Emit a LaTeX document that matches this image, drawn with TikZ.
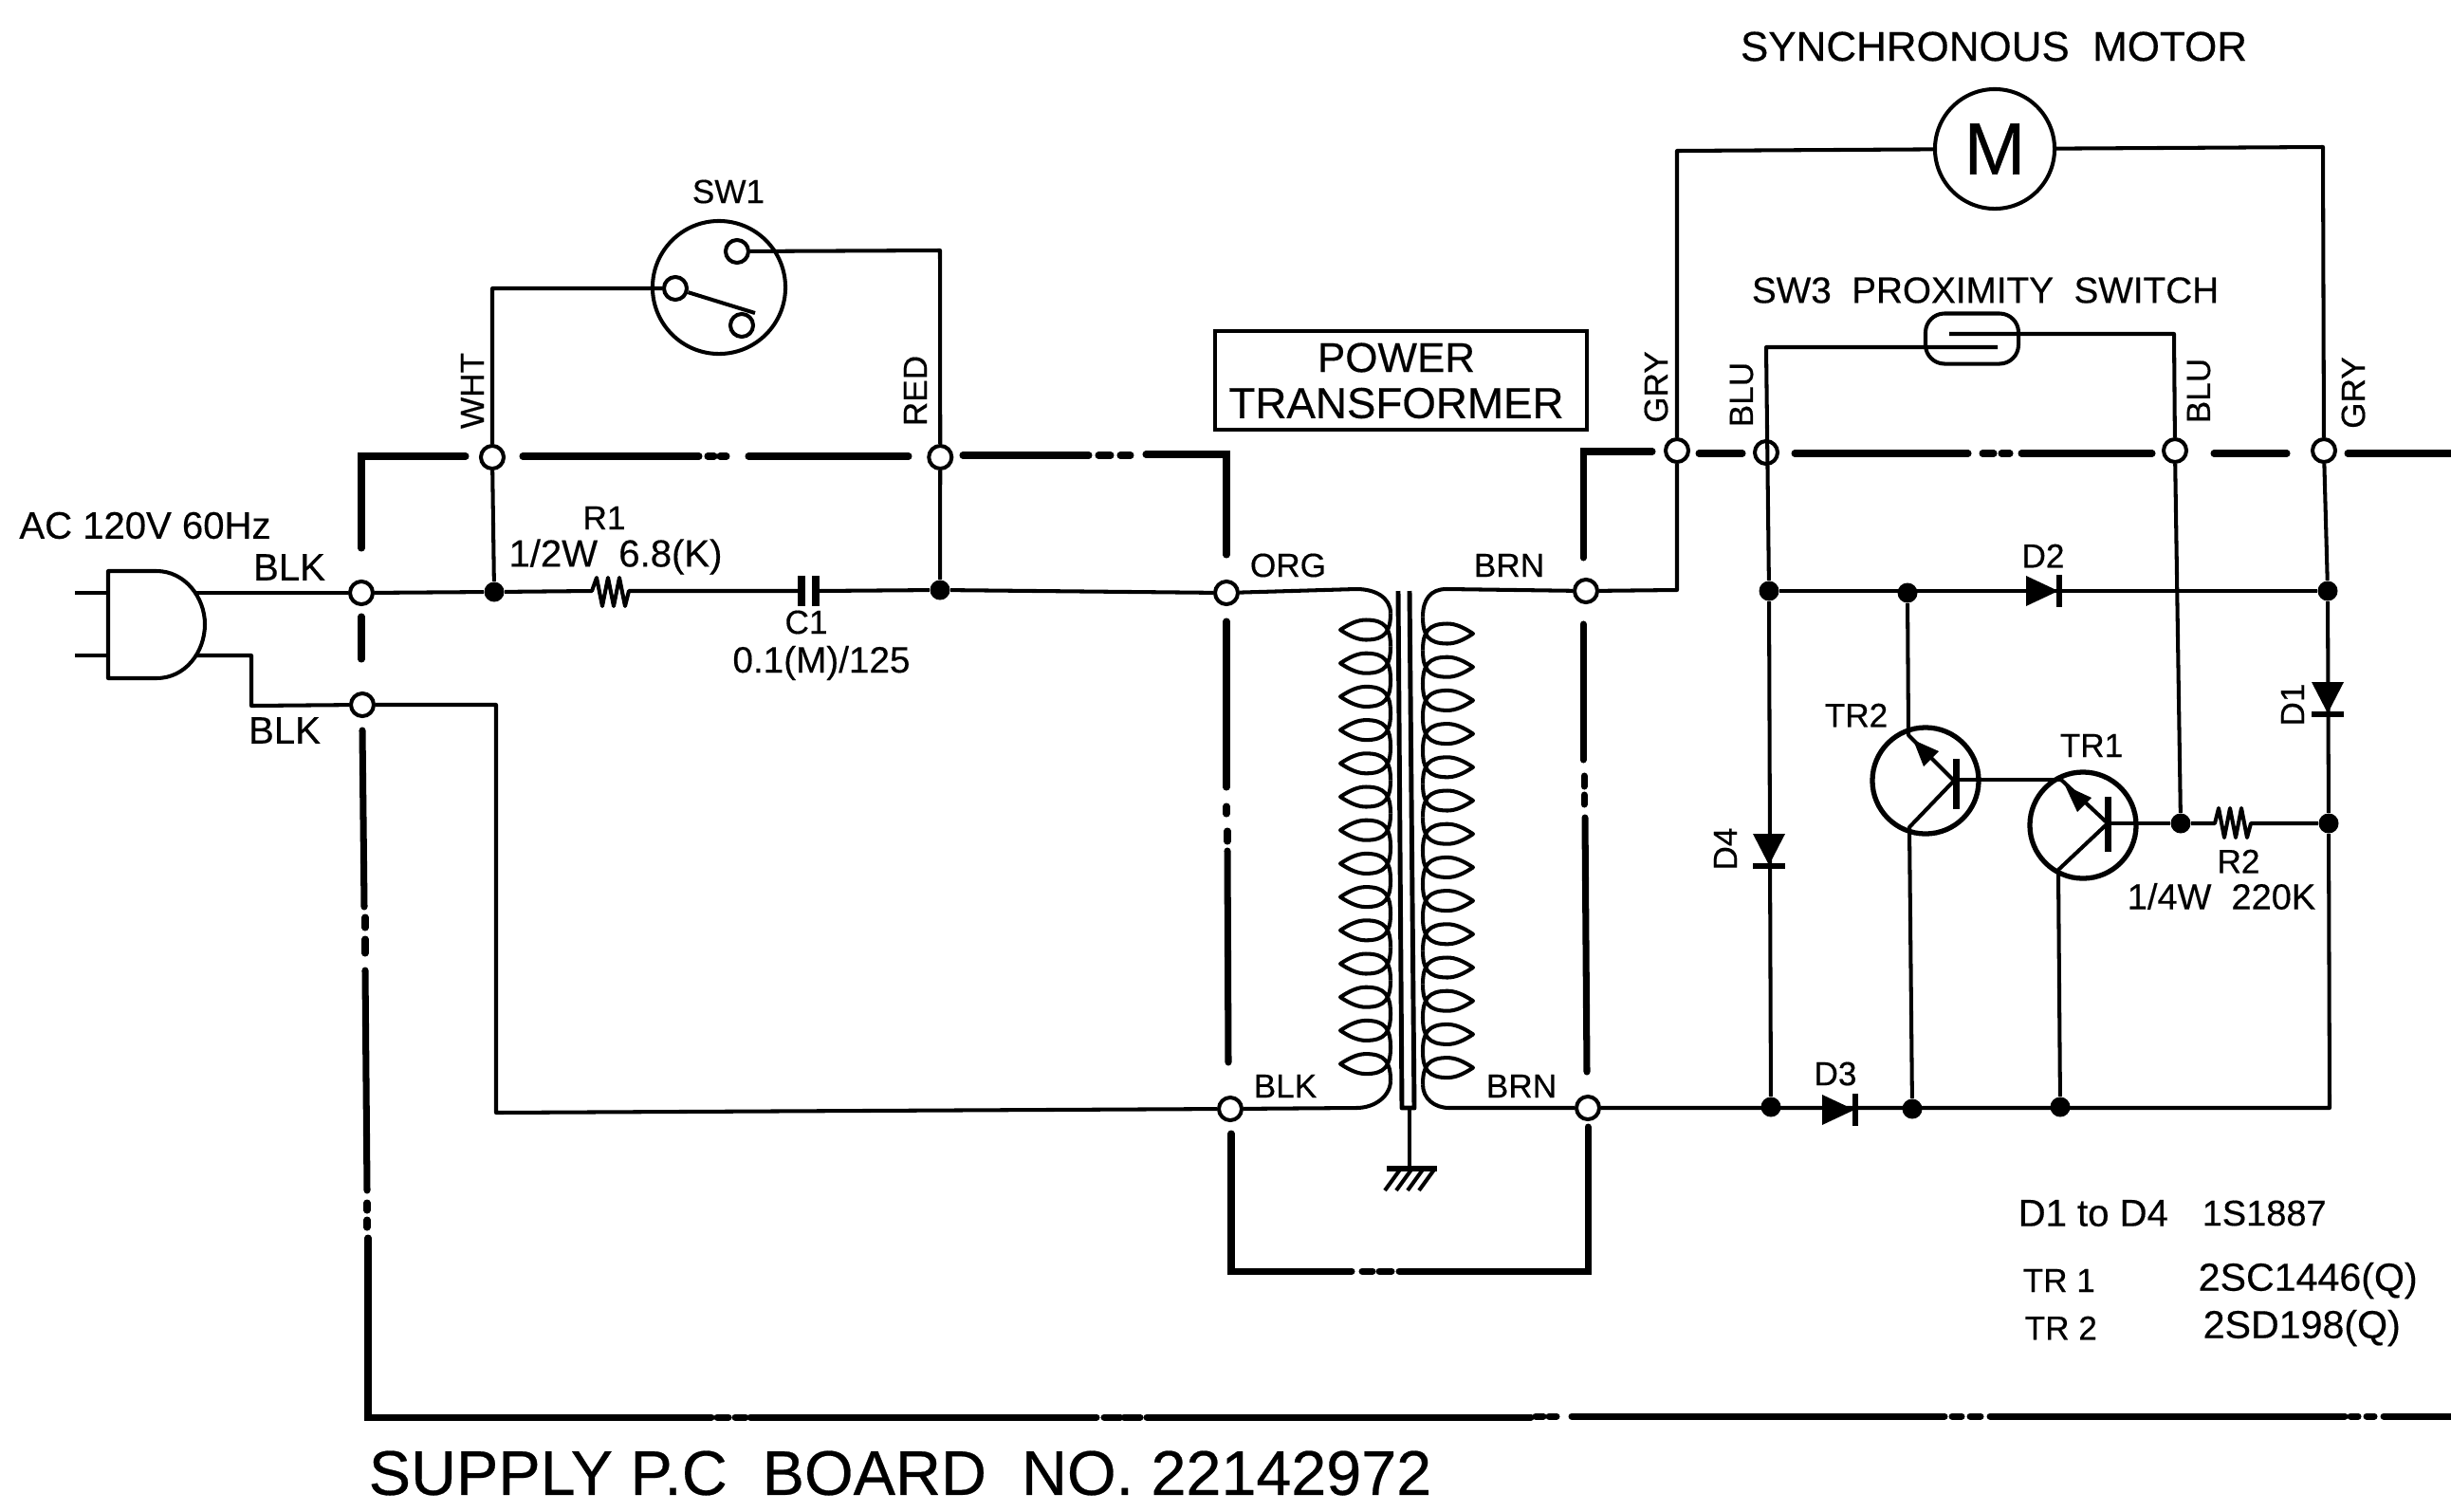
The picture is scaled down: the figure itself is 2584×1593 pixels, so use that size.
\documentclass[tikz,border=0pt]{standalone}
\usepackage{fontspec}
\setmainfont{Liberation Sans}[FakeBold=0.4]
\begin{document}
\begin{tikzpicture}[x=0.01cm, y=-0.01cm]
  \tikzstyle{wire} = [line width=1.15pt, line join=round]
  \tikzstyle{board} = [line width=2pt, line cap=round, line join=miter]
  \tikzstyle{terminal} = [circle, draw, line width=1.15pt, fill=white, inner sep=0pt, minimum size=0.24cm]
  \tikzstyle{dot} = [circle, fill=black, inner sep=0pt, minimum size=0.21cm]
  \tikzstyle{lbl} = [inner sep=0pt, font=\fontsize{10}{10}\selectfont]
  \tikzstyle{midlbl} = [inner sep=0pt, font=\fontsize{11.4}{11.4}\selectfont]
  \tikzstyle{biglbl} = [inner sep=0pt, font=\fontsize{12.5}{12.5}\selectfont]
  \tikzstyle{trans} = [circle, draw, line width=1.5pt, inner sep=0pt, minimum size=1.12cm]
  \useasboundingbox (0,0) rectangle (2584,1593);

  % board outline
  \draw[board] (491,481) -- (381,481) -- (381,578);
  \draw[board] (388,1305) -- (388,1494) -- (750,1494);
  \draw[board] (1208,479) -- (1293,479) -- (1293,585);
  \draw[board] (1298,1195) -- (1298,1340) -- (1425,1340);
  \draw[board] (1475,1340) -- (1674,1340) -- (1674,1188);
  \draw[board] (1669,588) -- (1669,476) -- (1742,476);
  \foreach \ax/\ay/\bx/\by in {551/481/737/481, 746/481/753/481, 759/481/766/481, 789/481/958/481,
      1015/480/1148/480, 1158/480/1171/480, 1181/480/1192/480,
      381/650/381/695, 382/770/384/956, 385/967/385/978, 385/990/385/1005, 385/1023/387/1255,
      387/1268/387/1276, 387/1286/387/1294,
      1293/655/1293/830, 1293/850/1293/858, 1294/876/1294/887, 1294/897/1295/1120,
      1436/1340/1447/1340, 1454/1340/1467/1340,
      1669/658/1669/801, 1670/818/1670/829, 1670/838/1670/848, 1671/862/1673/1130,
      1791/478/1837/478, 1892/478/2075/478, 2090/478/2102/478, 2110/478/2119/478,
      2131/478/2269/478, 2334/478/2411/478, 2475/478/2584/478,
      756/1494/768/1494, 775/1494/786/1494, 791/1494/1156/1494, 1164/1494/1181/1494, 1185/1494/1202/1494,
      1209/1494/1614/1494, 1619/1493/1627/1493, 1633/1493/1641/1493, 1657/1493/2050/1493,
      2058/1493/2068/1493, 2077/1493/2088/1493, 2098/1493/2472/1493, 2478/1493/2486/1493,
      2495/1493/2503/1493, 2513/1493/2584/1493}
    \draw[board] (\ax,\ay) -- (\bx,\by);

  % terminals on the board edge
  \node [terminal] (acone) at (381,625) {};
  \node [terminal] (actwo) at (382,743) {};
  \node [terminal] (wht) at (519,482) {};
  \node [terminal, right of=wht, node distance=4.72cm] (red) {};
  \node [terminal] (org) at (1293,625) {};
  \node [terminal] (blk) at (1297,1169) {};
  \node [terminal] (brna) at (1672,623) {};
  \node [terminal] (brnb) at (1674,1168) {};
  \node [terminal] (gryl) at (1768,475) {};
  \node [terminal] (blul) at (1862,477) {};
  \node [terminal] (blur) at (2293,475) {};
  \node [terminal] (gryr) at (2450,475) {};

  % junctions
  \node [dot] (jwht) at (521,624) {};
  \node [dot] (jred) at (991,622) {};
  \node [dot] (jblu) at (1865,623) {};
  \node [dot] (jtr) at (2011,625) {};
  \node [dot] (jgry) at (2454,623) {};
  \node [dot] (jbase) at (2299,868) {};
  \node [dot] (jrail) at (2455,868) {};
  \node [dot] (jdfour) at (1867,1167) {};
  \node [dot] (jtrb) at (2016,1169) {};
  \node [dot] (jtra) at (2172,1167) {};

  % plug
  \draw[wire] (114,602) -- (165,602) .. controls (195,602) and (216,630) .. (216,658)
    .. controls (216,688) and (195,715) .. (165,715) -- (114,715) -- cycle;
  \coordinate (plugt) at (205,625);
  \coordinate (plugb) at (207,691);
  \draw[wire] (79,625) -- (114,625);
  \draw[wire] (79,691) -- (114,691);
  \draw[wire] (plugt) -- (acone);
  \draw[wire] (plugb) -- (265,691) -- (265,744) -- (actwo);
  \draw[wire] (actwo) -- (523,743) -- (523,1173) -- (blk);
  \draw[wire] (acone) -- (jwht);

  % R1 and C1
  \draw[wire] (jwht) -- (624,623) -- ++(5,-14) -- ++(6,30) -- ++(6,-30) -- ++(6,30) -- ++(6,-30) -- ++(6,30) -- ++(4,-16) -- (845,623);
  \draw[wire] (860,623) -- (jred);
  \draw[wire] (jred) -- (org);
  \draw[line width=2pt] (845,607) -- (845,639);
  \draw[line width=2pt] (860,607) -- (860,639);

  % switch one
  \node [circle, draw, line width=1.15pt, inner sep=0pt, minimum size=1.4cm] (swone) at (758,303) {};
  \node [terminal] (cona) at (777,265) {};
  \node [terminal] (conb) at (712,304) {};
  \node [terminal] (conc) at (782,343) {};
  \draw[wire] (conb) -- (796,330);
  \draw[wire] (jwht) -- (wht) -- (519,304) -- (conb);
  \draw[wire] (jred) -- (red) -- (991,264) -- (cona);

  % transformer
  \foreach \tip/\mid/\rim/\ystart in {1413/1440/1466/664, 1553/1526/1500/668}
    \foreach \i in {0,...,13} {
      \pgfmathsetmacro\yy{\ystart+35.2*\i}
      \pgfmathsetmacro\ca{\mid+0.77*(\rim-\mid)}
      \pgfmathsetmacro\cb{\mid+0.3*(\tip-\mid)}
      \pgfmathsetmacro\cc{\tip+0.2*(\rim-\tip)}
      \draw[wire] (\rim,\yy-17.6) .. controls (\rim,\yy+2) and (\ca,\yy+10.5) .. (\mid,\yy+10.5)
        .. controls (\cb,\yy+10.5) and (\cc,\yy+7) .. (\tip,\yy)
        .. controls (\cc,\yy-7) and (\cb,\yy-10.5) .. (\mid,\yy-10.5)
        .. controls (\ca,\yy-10.5) and (\rim,\yy-2) .. (\rim,\yy+17.6);
    }
  \draw[wire] (org) -- (1430,621) .. controls (1450,621) and (1466,630) .. (1466,646.4);
  \draw[wire] (1466,1139.2) .. controls (1466,1155) and (1450,1168) .. (1430,1168) -- (blk);
  \draw[wire] (brna) -- (1525,621) .. controls (1508,621) and (1500,632) .. (1500,650.4);
  \draw[wire] (1500,1143.2) .. controls (1500,1158) and (1512,1168) .. (1528,1168) -- (brnb);
  \draw[line width=1.4pt, line join=round] (1474,623) -- (1478,1168) -- (1491,1168) -- (1486,623);
  \coordinate (gnd) at (1486,1232);
  \draw[wire] (1486,1168) -- (gnd);
  \draw[line width=1.7pt] (1462,1232) -- (1515,1232);
  \foreach \hx in {1476,1488,1500,1512}
    \draw[wire] (\hx,1233) -- ++(-16,22);

  % motor and proximity switch
  \node [circle, draw, line width=1.15pt, inner sep=0pt, minimum size=1.26cm, font=\fontsize{22}{22}\selectfont] (motor) at (2103,157) {M};
  \draw[wire] (jblu) -- (1862,366) -- (2106,366);
  \draw[wire] (2055,352) -- (2292,352) -- (blur);
  \node [rectangle, draw, line width=1.15pt, rounded corners=0.2cm, minimum width=0.98cm, minimum height=0.53cm] (reed) at (2079,357) {};
  \draw[wire] (brna) -- (1768,622) -- (gryl) -- (1768,159) -- (motor);
  \draw[wire] (jgry) -- (gryr) -- (2449,155) -- (motor);

  % rails
  \draw[wire] (jblu) -- (jgry);
  \draw[wire] (brnb) -- (2456,1168) -- (jrail) -- (jgry);
  \draw[wire] (jblu) -- (jdfour);
  \draw[wire] (blur) -- (jbase);
  \draw[wire] (jbase) -- (2335,868) -- ++(4,-16) -- ++(6,31) -- ++(6,-31) -- ++(6,31) -- ++(6,-31) -- ++(6,31) -- ++(4,-15) -- (jrail);

  % diodes
  \coordinate (dtwo) at (2153,623);
  \coordinate (dthree) at (1938,1170);
  \coordinate (done) at (2454,735);
  \coordinate (dfour) at (1865,895);
  \foreach \d in {dtwo,dthree} {
    \fill (\d) +(-17,-16) -- +(17,0) -- +(-17,16) -- cycle;
    \draw[line width=1.7pt] (\d) +(18,-17) -- +(18,17);
  }
  \foreach \d in {done,dfour} {
    \fill (\d) +(-17,-16) -- +(17,-16) -- +(0,17) -- cycle;
    \draw[line width=1.7pt] (\d) +(-17,18) -- +(17,18);
  }

  % transistors
  \node [trans] (trtwo) at (2030,823) {};
  \node [trans] (trone) at (2196,870) {};
  \draw[wire] (jtr) -- (2012,775) -- (2060,823) -- (2013,872) -- (jtrb);
  \draw[wire] (2173,822) -- (2222,868) -- (2170,917) -- (jtra);
  \draw[wire] (2062,822) -- (2173,822);
  \draw[wire] (2222,868) -- (jbase);
  \draw[line width=2pt] (2062,800) -- (2062,853);
  \draw[line width=2pt] (2222,840) -- (2222,898);
  \fill (2017,780) -- (2044,792) -- (2028,808) -- cycle;
  \fill (2177,828) -- (2205,841) -- (2190,856) -- cycle;

  % labels
  \node [lbl] (swonel) at (768,202) {SW1};
  \node [lbl, rotate=90] (whtl) at (498,412) {WHT};
  \node [lbl, rotate=90] (redl) at (965,412) {RED};
  \node [midlbl] (acl) at (153,554) {AC 120V 60Hz};
  \node [midlbl] (blka) at (305,598) {BLK};
  \node [midlbl] (blkb) at (300,770) {BLK};
  \node [lbl] (rone) at (637,546) {R1};
  \node [midlbl] (roneval) at (649,587) {1/2W\ \ 6.8(K)};
  \node [lbl] (cone) at (850,656) {C1};
  \node [midlbl, font=\fontsize{11}{11}\selectfont] (coneval) at (866,699) {0.1(M)/125};
  \node [lbl] (orgl) at (1358,596) {ORG};
  \node [lbl] (brnal) at (1591,596) {BRN};
  \node [lbl] (blkl) at (1355,1145) {BLK};
  \node [lbl] (brnbl) at (1604,1145) {BRN};
  \node [rectangle, draw, line width=1.15pt, minimum width=3.92cm, minimum height=1.04cm] (ptbox) at (1477,401) {};
  \node [biglbl] (pow) at (1472,377) {POWER};
  \node [biglbl, font=\fontsize{13}{13}\selectfont] (tfm) at (1472,425) {TRANSFORMER};
  \node [biglbl] (motl) at (2102,49) {SYNCHRONOUS\ \ MOTOR};
  \node [lbl, font=\fontsize{11}{11}\selectfont] (swthree) at (2093,306) {SW3\ \ PROXIMITY\ \ SWITCH};
  \node [lbl, rotate=90] (gryll) at (1746,408) {GRY};
  \node [lbl, rotate=90] (blull) at (1836,416) {BLU};
  \node [lbl, rotate=90] (blurl) at (2318,412) {BLU};
  \node [lbl, rotate=90] (gryrl) at (2481,414) {GRY};
  \node [lbl] (dtwol) at (2154,586) {D2};
  \node [lbl] (dthreel) at (1935,1132) {D3};
  \node [lbl, rotate=90] (donel) at (2417,743) {D1};
  \node [lbl, rotate=90] (dfourl) at (1819,895) {D4};
  \node [lbl] (trtwol) at (1957,754) {TR2};
  \node [lbl] (tronel) at (2205,786) {TR1};
  \node [lbl] (rtwo) at (2360,908) {R2};
  \node [midlbl, font=\fontsize{10.8}{10.8}\selectfont] (rtwoval) at (2342,945) {1/4W\ \ 220K};
  \node [midlbl, anchor=west] (tbla) at (2127,1279) {D1 to D4};
  \node [midlbl, anchor=west, font=\fontsize{10.8}{10.8}\selectfont] (tblb) at (2321,1279) {1S1887};
  \node [lbl, anchor=west] (tblc) at (2132,1350) {TR 1};
  \node [midlbl, anchor=west, font=\fontsize{11.7}{11.7}\selectfont] (tbld) at (2317,1350) {2SC1446(Q)};
  \node [lbl, anchor=west] (tble) at (2134,1400) {TR 2};
  \node [midlbl, anchor=west, font=\fontsize{11.7}{11.7}\selectfont] (tblf) at (2322,1400) {2SD198(Q)};
  \node [lbl, anchor=west, font=\fontsize{18.9}{18.9}\selectfont] (board) at (388,1553) {SUPPLY P.C\ \ BOARD\ \ NO. 22142972};
\end{tikzpicture}
\end{document}
